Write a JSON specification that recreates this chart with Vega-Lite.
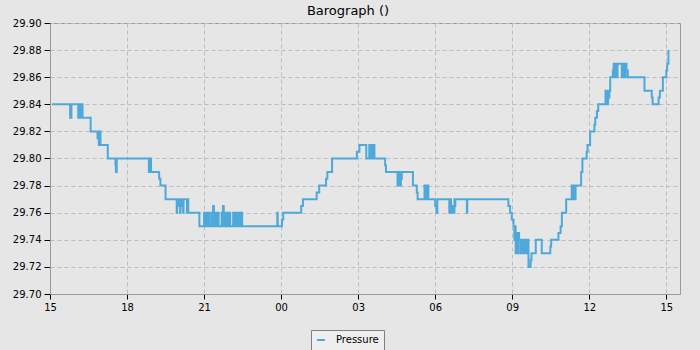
{
  "$schema": "https://vega.github.io/schema/vega-lite/v6.json",
  "autosize": {"type": "none"},
  "padding": {"left": 50, "top": 23, "right": 20, "bottom": 56},
  "width": 630,
  "height": 271,
  "background": "#e6e6e6",
  "title": {"text": "Barograph ()", "anchor": "middle", "dx": -17, "offset": 0, "fontSize": 13, "fontWeight": "normal", "font": "DejaVu Sans", "color": "#000000"},
  "config": {
    "view": {"stroke": "#999999", "strokeWidth": 1},
    "axis": {"labelFont": "DejaVu Sans", "labelFontSize": 10, "labelColor": "#000000", "domainColor": "#999999", "tickColor": "#000000", "gridColor": "#bdbdbd", "gridDash": [4, 3]}
  },
  "data": {"values": [
    {"t": "2024-01-01T15:05", "p": 29.84},
    {"t": "2024-01-01T15:47", "p": 29.83},
    {"t": "2024-01-01T15:50", "p": 29.84},
    {"t": "2024-01-01T16:06", "p": 29.83},
    {"t": "2024-01-01T16:08", "p": 29.84},
    {"t": "2024-01-01T16:11", "p": 29.83},
    {"t": "2024-01-01T16:13", "p": 29.84},
    {"t": "2024-01-01T16:16", "p": 29.83},
    {"t": "2024-01-01T16:35", "p": 29.82},
    {"t": "2024-01-01T16:51", "p": 29.815},
    {"t": "2024-01-01T16:53", "p": 29.82},
    {"t": "2024-01-01T16:54", "p": 29.81},
    {"t": "2024-01-01T16:56", "p": 29.82},
    {"t": "2024-01-01T16:58", "p": 29.81},
    {"t": "2024-01-01T17:15", "p": 29.80},
    {"t": "2024-01-01T17:33", "p": 29.795},
    {"t": "2024-01-01T17:34", "p": 29.79},
    {"t": "2024-01-01T17:36", "p": 29.80},
    {"t": "2024-01-01T18:51", "p": 29.79},
    {"t": "2024-01-01T18:52", "p": 29.80},
    {"t": "2024-01-01T18:53", "p": 29.79},
    {"t": "2024-01-01T18:54", "p": 29.80},
    {"t": "2024-01-01T18:56", "p": 29.79},
    {"t": "2024-01-01T19:15", "p": 29.785},
    {"t": "2024-01-01T19:18", "p": 29.78},
    {"t": "2024-01-01T19:30", "p": 29.77},
    {"t": "2024-01-01T19:56", "p": 29.76},
    {"t": "2024-01-01T19:57", "p": 29.77},
    {"t": "2024-01-01T19:58", "p": 29.765},
    {"t": "2024-01-01T20:00", "p": 29.77},
    {"t": "2024-01-01T20:02", "p": 29.765},
    {"t": "2024-01-01T20:04", "p": 29.76},
    {"t": "2024-01-01T20:05", "p": 29.77},
    {"t": "2024-01-01T20:07", "p": 29.765},
    {"t": "2024-01-01T20:09", "p": 29.77},
    {"t": "2024-01-01T20:11", "p": 29.76},
    {"t": "2024-01-01T20:12", "p": 29.77},
    {"t": "2024-01-01T20:20", "p": 29.76},
    {"t": "2024-01-01T20:21", "p": 29.77},
    {"t": "2024-01-01T20:23", "p": 29.76},
    {"t": "2024-01-01T20:49", "p": 29.75},
    {"t": "2024-01-01T21:00", "p": 29.76},
    {"t": "2024-01-01T21:01", "p": 29.75},
    {"t": "2024-01-01T21:02", "p": 29.76},
    {"t": "2024-01-01T21:04", "p": 29.75},
    {"t": "2024-01-01T21:05", "p": 29.76},
    {"t": "2024-01-01T21:07", "p": 29.75},
    {"t": "2024-01-01T21:08", "p": 29.76},
    {"t": "2024-01-01T21:10", "p": 29.75},
    {"t": "2024-01-01T21:11", "p": 29.76},
    {"t": "2024-01-01T21:13", "p": 29.75},
    {"t": "2024-01-01T21:18", "p": 29.76},
    {"t": "2024-01-01T21:20", "p": 29.75},
    {"t": "2024-01-01T21:21", "p": 29.765},
    {"t": "2024-01-01T21:23", "p": 29.75},
    {"t": "2024-01-01T21:25", "p": 29.76},
    {"t": "2024-01-01T21:27", "p": 29.75},
    {"t": "2024-01-01T21:29", "p": 29.76},
    {"t": "2024-01-01T21:31", "p": 29.75},
    {"t": "2024-01-01T21:33", "p": 29.76},
    {"t": "2024-01-01T21:34", "p": 29.75},
    {"t": "2024-01-01T21:41", "p": 29.76},
    {"t": "2024-01-01T21:43", "p": 29.75},
    {"t": "2024-01-01T21:44", "p": 29.765},
    {"t": "2024-01-01T21:46", "p": 29.75},
    {"t": "2024-01-01T21:48", "p": 29.76},
    {"t": "2024-01-01T21:50", "p": 29.75},
    {"t": "2024-01-01T21:52", "p": 29.76},
    {"t": "2024-01-01T21:54", "p": 29.75},
    {"t": "2024-01-01T21:56", "p": 29.76},
    {"t": "2024-01-01T21:58", "p": 29.75},
    {"t": "2024-01-01T22:00", "p": 29.76},
    {"t": "2024-01-01T22:01", "p": 29.75},
    {"t": "2024-01-01T22:08", "p": 29.76},
    {"t": "2024-01-01T22:10", "p": 29.75},
    {"t": "2024-01-01T22:12", "p": 29.76},
    {"t": "2024-01-01T22:14", "p": 29.75},
    {"t": "2024-01-01T22:16", "p": 29.76},
    {"t": "2024-01-01T22:18", "p": 29.75},
    {"t": "2024-01-01T22:20", "p": 29.76},
    {"t": "2024-01-01T22:22", "p": 29.75},
    {"t": "2024-01-01T22:24", "p": 29.76},
    {"t": "2024-01-01T22:26", "p": 29.75},
    {"t": "2024-01-01T22:28", "p": 29.76},
    {"t": "2024-01-01T22:29", "p": 29.75},
    {"t": "2024-01-01T23:51", "p": 29.76},
    {"t": "2024-01-01T23:52", "p": 29.75},
    {"t": "2024-01-02T00:02", "p": 29.755},
    {"t": "2024-01-02T00:05", "p": 29.76},
    {"t": "2024-01-02T00:47", "p": 29.765},
    {"t": "2024-01-02T00:51", "p": 29.77},
    {"t": "2024-01-02T01:23", "p": 29.775},
    {"t": "2024-01-02T01:29", "p": 29.78},
    {"t": "2024-01-02T01:45", "p": 29.785},
    {"t": "2024-01-02T01:48", "p": 29.79},
    {"t": "2024-01-02T01:59", "p": 29.80},
    {"t": "2024-01-02T02:57", "p": 29.805},
    {"t": "2024-01-02T03:03", "p": 29.81},
    {"t": "2024-01-02T03:19", "p": 29.80},
    {"t": "2024-01-02T03:26", "p": 29.81},
    {"t": "2024-01-02T03:28", "p": 29.80},
    {"t": "2024-01-02T03:29", "p": 29.81},
    {"t": "2024-01-02T03:31", "p": 29.80},
    {"t": "2024-01-02T03:32", "p": 29.81},
    {"t": "2024-01-02T03:34", "p": 29.80},
    {"t": "2024-01-02T03:35", "p": 29.81},
    {"t": "2024-01-02T03:38", "p": 29.80},
    {"t": "2024-01-02T04:03", "p": 29.795},
    {"t": "2024-01-02T04:05", "p": 29.79},
    {"t": "2024-01-02T04:32", "p": 29.78},
    {"t": "2024-01-02T04:34", "p": 29.79},
    {"t": "2024-01-02T04:35", "p": 29.78},
    {"t": "2024-01-02T04:37", "p": 29.79},
    {"t": "2024-01-02T04:38", "p": 29.78},
    {"t": "2024-01-02T04:40", "p": 29.785},
    {"t": "2024-01-02T04:42", "p": 29.79},
    {"t": "2024-01-02T05:08", "p": 29.78},
    {"t": "2024-01-02T05:17", "p": 29.775},
    {"t": "2024-01-02T05:19", "p": 29.77},
    {"t": "2024-01-02T05:35", "p": 29.78},
    {"t": "2024-01-02T05:37", "p": 29.77},
    {"t": "2024-01-02T05:38", "p": 29.78},
    {"t": "2024-01-02T05:40", "p": 29.77},
    {"t": "2024-01-02T05:42", "p": 29.78},
    {"t": "2024-01-02T05:44", "p": 29.77},
    {"t": "2024-01-02T06:00", "p": 29.765},
    {"t": "2024-01-02T06:03", "p": 29.76},
    {"t": "2024-01-02T06:05", "p": 29.77},
    {"t": "2024-01-02T06:33", "p": 29.76},
    {"t": "2024-01-02T06:35", "p": 29.77},
    {"t": "2024-01-02T06:37", "p": 29.76},
    {"t": "2024-01-02T06:40", "p": 29.765},
    {"t": "2024-01-02T06:42", "p": 29.76},
    {"t": "2024-01-02T06:45", "p": 29.77},
    {"t": "2024-01-02T06:46", "p": 29.765},
    {"t": "2024-01-02T06:47", "p": 29.77},
    {"t": "2024-01-02T07:14", "p": 29.76},
    {"t": "2024-01-02T07:15", "p": 29.77},
    {"t": "2024-01-02T08:51", "p": 29.765},
    {"t": "2024-01-02T08:55", "p": 29.76},
    {"t": "2024-01-02T08:59", "p": 29.755},
    {"t": "2024-01-02T09:03", "p": 29.75},
    {"t": "2024-01-02T09:05", "p": 29.74},
    {"t": "2024-01-02T09:07", "p": 29.75},
    {"t": "2024-01-02T09:08", "p": 29.73},
    {"t": "2024-01-02T09:10", "p": 29.745},
    {"t": "2024-01-02T09:12", "p": 29.73},
    {"t": "2024-01-02T09:14", "p": 29.745},
    {"t": "2024-01-02T09:16", "p": 29.74},
    {"t": "2024-01-02T09:19", "p": 29.73},
    {"t": "2024-01-02T09:22", "p": 29.74},
    {"t": "2024-01-02T09:26", "p": 29.73},
    {"t": "2024-01-02T09:28", "p": 29.74},
    {"t": "2024-01-02T09:30", "p": 29.73},
    {"t": "2024-01-02T09:32", "p": 29.74},
    {"t": "2024-01-02T09:34", "p": 29.73},
    {"t": "2024-01-02T09:36", "p": 29.74},
    {"t": "2024-01-02T09:38", "p": 29.72},
    {"t": "2024-01-02T09:43", "p": 29.725},
    {"t": "2024-01-02T09:45", "p": 29.73},
    {"t": "2024-01-02T09:55", "p": 29.74},
    {"t": "2024-01-02T10:09", "p": 29.73},
    {"t": "2024-01-02T10:29", "p": 29.735},
    {"t": "2024-01-02T10:31", "p": 29.74},
    {"t": "2024-01-02T10:48", "p": 29.745},
    {"t": "2024-01-02T10:53", "p": 29.75},
    {"t": "2024-01-02T10:56", "p": 29.76},
    {"t": "2024-01-02T11:06", "p": 29.77},
    {"t": "2024-01-02T11:19", "p": 29.78},
    {"t": "2024-01-02T11:21", "p": 29.77},
    {"t": "2024-01-02T11:22", "p": 29.78},
    {"t": "2024-01-02T11:24", "p": 29.77},
    {"t": "2024-01-02T11:28", "p": 29.78},
    {"t": "2024-01-02T11:41", "p": 29.79},
    {"t": "2024-01-02T11:44", "p": 29.80},
    {"t": "2024-01-02T11:54", "p": 29.805},
    {"t": "2024-01-02T11:56", "p": 29.81},
    {"t": "2024-01-02T12:02", "p": 29.82},
    {"t": "2024-01-02T12:12", "p": 29.825},
    {"t": "2024-01-02T12:14", "p": 29.83},
    {"t": "2024-01-02T12:18", "p": 29.835},
    {"t": "2024-01-02T12:21", "p": 29.84},
    {"t": "2024-01-02T12:38", "p": 29.85},
    {"t": "2024-01-02T12:40", "p": 29.84},
    {"t": "2024-01-02T12:41", "p": 29.85},
    {"t": "2024-01-02T12:43", "p": 29.84},
    {"t": "2024-01-02T12:44", "p": 29.85},
    {"t": "2024-01-02T12:46", "p": 29.845},
    {"t": "2024-01-02T12:47", "p": 29.85},
    {"t": "2024-01-02T12:49", "p": 29.86},
    {"t": "2024-01-02T12:55", "p": 29.865},
    {"t": "2024-01-02T12:57", "p": 29.87},
    {"t": "2024-01-02T12:58", "p": 29.86},
    {"t": "2024-01-02T13:00", "p": 29.87},
    {"t": "2024-01-02T13:01", "p": 29.86},
    {"t": "2024-01-02T13:03", "p": 29.87},
    {"t": "2024-01-02T13:04", "p": 29.86},
    {"t": "2024-01-02T13:06", "p": 29.87},
    {"t": "2024-01-02T13:16", "p": 29.86},
    {"t": "2024-01-02T13:17", "p": 29.87},
    {"t": "2024-01-02T13:19", "p": 29.86},
    {"t": "2024-01-02T13:21", "p": 29.87},
    {"t": "2024-01-02T13:23", "p": 29.86},
    {"t": "2024-01-02T13:25", "p": 29.87},
    {"t": "2024-01-02T13:27", "p": 29.865},
    {"t": "2024-01-02T13:30", "p": 29.86},
    {"t": "2024-01-02T14:09", "p": 29.85},
    {"t": "2024-01-02T14:26", "p": 29.845},
    {"t": "2024-01-02T14:28", "p": 29.84},
    {"t": "2024-01-02T14:42", "p": 29.845},
    {"t": "2024-01-02T14:45", "p": 29.85},
    {"t": "2024-01-02T14:52", "p": 29.86},
    {"t": "2024-01-02T15:00", "p": 29.865},
    {"t": "2024-01-02T15:02", "p": 29.87},
    {"t": "2024-01-02T15:05", "p": 29.88}
  ]},
  "mark": {"type": "line", "interpolate": "step-after", "strokeWidth": 2},
  "encoding": {
    "x": {"field": "t", "type": "temporal",
      "scale": {"domain": [{"year": 2024, "month": 1, "date": 1, "hours": 15, "minutes": 0}, {"year": 2024, "month": 1, "date": 2, "hours": 15, "minutes": 32}]},
      "axis": {"title": null, "format": "%H", "tickSize": 5, "labelPadding": 3, "grid": true, "labelFlush": false,
        "values": [
          {"year": 2024, "month": 1, "date": 1, "hours": 15},
          {"year": 2024, "month": 1, "date": 1, "hours": 18},
          {"year": 2024, "month": 1, "date": 1, "hours": 21},
          {"year": 2024, "month": 1, "date": 2, "hours": 0},
          {"year": 2024, "month": 1, "date": 2, "hours": 3},
          {"year": 2024, "month": 1, "date": 2, "hours": 6},
          {"year": 2024, "month": 1, "date": 2, "hours": 9},
          {"year": 2024, "month": 1, "date": 2, "hours": 12},
          {"year": 2024, "month": 1, "date": 2, "hours": 15}
        ]}},
    "y": {"field": "p", "type": "quantitative",
      "scale": {"domain": [29.70, 29.90], "zero": false},
      "axis": {"title": null, "format": ".2f", "tickSize": 6, "labelPadding": 3, "grid": true,
        "values": [29.70, 29.72, 29.74, 29.76, 29.78, 29.80, 29.82, 29.84, 29.86, 29.88, 29.90]}},
    "color": {"datum": "Pressure",
      "scale": {"range": ["#4ea9da"]},
      "legend": {"title": null, "orient": "none", "legendX": 261, "legendY": 307, "symbolType": "stroke", "symbolStrokeWidth": 2, "symbolSize": 64, "labelFont": "DejaVu Sans", "labelFontSize": 10, "labelColor": "#000000", "strokeColor": "#808080", "fillColor": "#eeeeee", "padding": 5, "labelOffset": 10}}
  }
}
